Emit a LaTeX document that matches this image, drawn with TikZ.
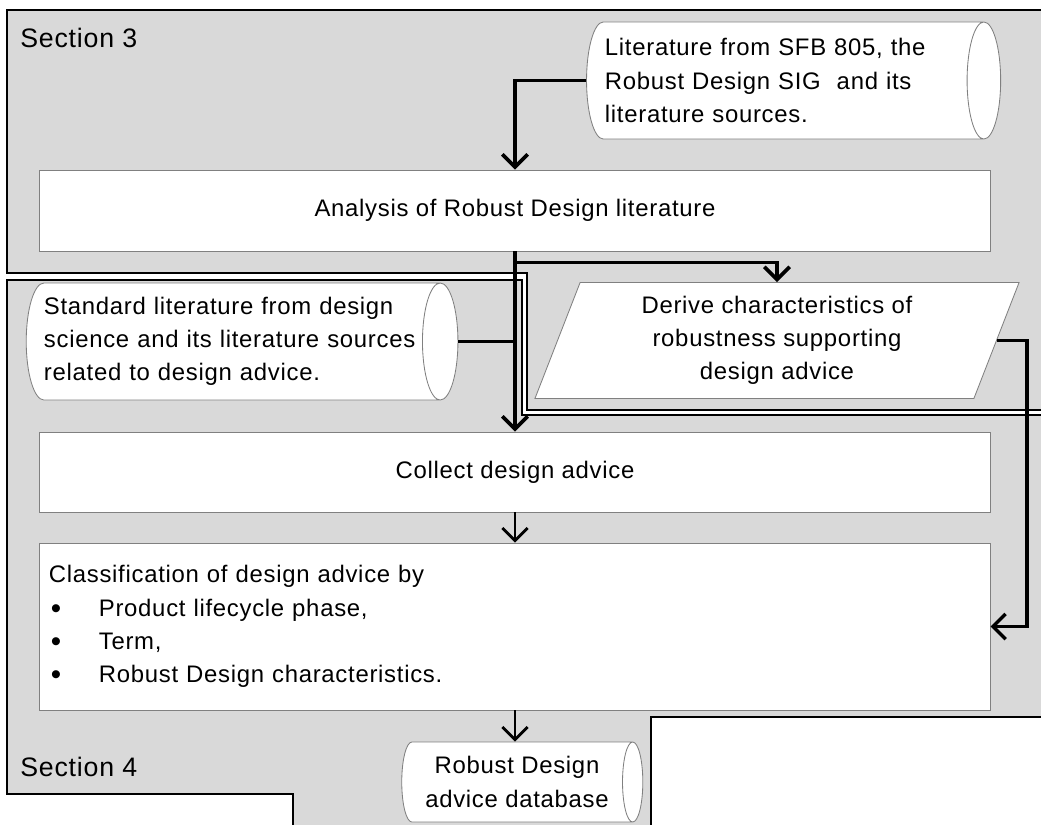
\documentclass[tikz,border=0pt]{standalone}
\usepackage{fontspec}
\setmainfont[LetterSpace=3]{Liberation Sans}
\usetikzlibrary{shapes.geometric,arrows.meta,calc}
\definecolor{secgray}{HTML}{D9D9D9}
\newcommand{\itemdot}{\makebox[1.25cm][l]{\hspace{0.05cm}\raisebox{-0.1em}{\fontsize{21}{21}\selectfont\textbullet}}}
\tikzset{
  every node/.style={font=\fontsize{17}{23.6}\selectfont},
  section/.style={draw=black, line width=1.3pt, fill=secgray},
  seclabel/.style={anchor=base west, inner sep=0pt, font=\fontsize{19}{23}\selectfont},
  box/.style={draw=gray, line width=0.6pt, fill=white, inner sep=0pt},
  store/.style={box, cylinder, aspect=0.4, shape border rotate=0},
  flow/.style={line width=2.6pt, -{Straight Barb[length=9pt,width=18pt]}},
  thinflow/.style={line width=2pt, -{Straight Barb[length=9pt,width=18pt]}},
  feedline/.style={line width=2.6pt}
}
\begin{document}
\begin{tikzpicture}[x=0.025cm, y=-0.025cm]
  \useasboundingbox (0,0) rectangle (1041,824);

  % Section areas
  \draw[section] (7,10) -- (1050,10) -- (1050,410) -- (527,410) -- (527,273) -- (7,273) -- cycle;
  \draw[section] (7,280) -- (522,280) -- (522,415) -- (1050,415) -- (1050,717)
    -- (651,717) -- (651,830) -- (293,830) -- (293,794) -- (7,794) -- cycle;
  \node[seclabel] (sec3) at (20,47) {Section 3};
  \node[seclabel] (sec4) at (20,776) {Section 4};

  % Literature sources
  \node[store, minimum height=10.35cm, minimum width=2.925cm, text width=9.0cm, align=left]
    (sfb) at (785,80.5) {Literature from SFB 805, the\\Robust Design SIG\ \ and its\\literature sources.};
  \node[store, minimum height=10.6cm, minimum width=2.925cm, text width=9.45cm, align=left]
    (stdlit) at (233,341.5) {Standard literature from design\\science and its literature sources\\related to design advice.};

  % Process steps
  \node[box, minimum width=23.75cm, minimum height=2.025cm] (analysis) at (515,210.5) {Analysis of Robust Design literature};
  \node[box, trapezium, trapezium left angle=63, trapezium right angle=117, trapezium stretches body,
    minimum width=12.1cm, minimum height=2.9cm, align=center]
    (derive) at (777,340.5) {Derive characteristics of\\robustness supporting\\design advice};
  \node[box, minimum width=23.75cm, minimum height=2cm] (collect) at (515,472) {Collect design advice};
  \node[box, minimum width=23.75cm, minimum height=4.175cm, text width=23.3cm, align=left]
    (classify) at (515,626.5) {Classification of design advice by\\
      \itemdot Product lifecycle phase,\\
      \itemdot Term,\\
      \itemdot Robust Design characteristics.};

  % Result
  \node[store, aspect=0.4, minimum height=6.025cm, minimum width=2cm, align=center]
    (database) at (517,782) {Robust Design\\advice database};

  % Connectors
  \coordinate (split) at ($(analysis.south)+(0,11)$);
  \draw[flow] (sfb.west) -| (analysis.north);
  \draw[flow] (analysis.south) -- (collect.north);
  \draw[flow] (split) -| (derive.north);
  \draw[feedline] (stdlit.east) -- (stdlit.east -| analysis.south);
  \draw[flow, line width=2.4pt] (derive.east) -- ++(30,0) |- (classify.east);
  \draw[thinflow] (collect.south) -- (classify.north);
  \draw[thinflow] (classify.south) -- (classify.south |- database.north);
\end{tikzpicture}
\end{document}
